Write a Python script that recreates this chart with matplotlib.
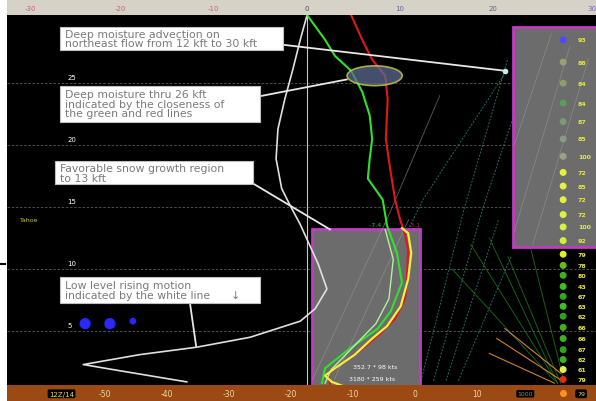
import matplotlib.pyplot as plt
from matplotlib.patches import Rectangle, Ellipse

# profiles: x value (deg C on the skew axis), height in kft
white_x = [-17.4, -18.5, -19.7, -21.0, -22.1, -22.4, -21.5, -20.2, -18.5, -15.6, -14.2,
           -16.1, -18.5, -26.6, -35.2, -44.4, -53.5, -47.6, -36.8]
white_h = [30.5, 28.5, 26.1, 23.7, 21.3, 18.9, 16.5, 15.2, 13.6, 10.4, 8.4,
           6.8, 5.8, 4.5, 3.7, 3.1, 2.3, 1.8, 0.9]

red_x = [-10.3, -8.5, -6.9, -4.8, -4.4, -4.7, -4.0, -3.2, -2.4, -1.6, -1.1, -1.3,
         -1.6, -3.2, -5.6, -8.9, -12.1, -14.0, -13.7]
red_h = [30.5, 28.5, 26.9, 25.6, 23.7, 20.5, 18.1, 15.6, 14.0, 12.8, 11.6, 9.2,
         7.6, 6.0, 4.8, 3.4, 2.3, 1.5, 0.7]

green_x = [-17.4, -14.5, -12.9, -10.3, -8.5, -7.3, -6.9, -7.3, -7.6, -5.2, -4.5, -2.9,
           -2.1, -3.9, -6.0, -10.5, -14.5, -15.0]
green_h = [30.5, 28.5, 27.2, 26.0, 24.3, 22.4, 20.5, 18.9, 17.3, 15.6, 13.5, 11.3,
           8.9, 6.6, 5.2, 3.6, 2.0, 0.8]

yellow_x = [-2.1, -1.1, -0.6, -1.1, -2.3, -4.5, -6.9, -9.7, -12.9, -14.5, -13.4, -11.8]
yellow_h = [13.3, 12.9, 11.3, 9.2, 7.0, 5.4, 4.4, 3.1, 2.0, 1.4, 0.9, 0.6]

lgreen_x = [-4.8, -3.5, -4.2, -6.3, -10.0, -13.5, -14.5]
lgreen_h = [13.2, 10.8, 7.6, 5.6, 3.7, 1.9, 0.8]

# right column (levels and values)
dot_h = [28.5, 26.7, 25.0, 23.4, 21.9, 20.5, 19.1, 17.8, 16.7, 15.6, 14.4, 13.4, 12.3,
         11.2, 10.3, 9.5, 8.6, 7.8, 7.0, 6.2, 5.3, 4.4, 3.5, 2.7, 1.9, 1.1, 0.3]
dot_val = ["93", "88", "84", "84", "87", "85", "100", "72", "85", "72", "72", "100", "92",
           "79", "78", "80", "43", "67", "63", "62", "66", "66", "67", "62", "61", "79", "75"]
dot_col = ["#4a4aff", "#9aa070", "#8c9c6c", "#5c9c5c", "#7a9a70", "#8a9a80", "#a0a080",
           "#e8f040", "#e8f040", "#e0f040", "#e0f040", "#d8f040", "#d0f040", "#e0f020",
           "#60c020", "#40b020", "#40c020", "#30a820", "#40c020", "#30a020", "#40b020",
           "#40b020", "#30a020", "#40b020", "#e8f040", "#e03010", "#ff8000"]

bottom_ticks = [-50, -40, -30, -20, -10, 0, 10]
top_pos = [-62, -47.5, -32.5, -17.5, -2.5, 12.5, 28.5]
top_lab = ["-30", "-20", "-10", "0", "10", "20", "30"]
top_col = ["#d06070", "#d06070", "#d06070", "#505050", "#6060a0", "#6060a0", "#8060c0"]
grid_h = [5, 10, 15, 20, 25]

xlim = (-65.8, 29.2)
ylim = (0.65, 30.5)

fig = plt.figure(figsize=(5.96, 4.02), dpi=100, facecolor="white")
ax = fig.add_axes([7 / 596, 16 / 402, 589 / 596, 370 / 402])
ax.set_facecolor("black")
ax.set_xlim(xlim)
ax.set_ylim(ylim)
ax.set_xticks([])
ax.set_yticks([])
for s in ax.spines.values():
    s.set_visible(False)

# guide lines
teal = [([1.0, 8.0, 15.0], [1, 15, 27]), ([3.0, 11.0, 17.0], [1, 15, 24]),
        ([5.0, 13.5], [1, 14]), ([-10.0, 1.3, 14.8], [4, 15.6, 26]),
        ([7.0, 15.5], [1, 11])]
for tx, th in teal:
    ax.plot(tx, th, color="#2a8a80", lw=0.7, ls=(0, (2, 1.5)), alpha=0.8, zorder=2)
for tx, th in [([-16.5, -4.0, 4.0], [1.1, 14.6, 24]), ([-13.0, -1.0], [1.1, 14.0])]:
    ax.plot(tx, th, color="#9a9a9a", lw=0.6, alpha=0.6, zorder=4)
for tx, th in [([9, 23], [12, 0.8]), ([12, 23], [12.5, 0.8]), ([15, 23.5], [11, 0.8]),
               ([6, 22.5], [10, 1.0]), ([18, 24], [13, 1])]:
    ax.plot(tx, th, color="#208a20", lw=0.7, alpha=0.7, zorder=2)
for tx, th in [([13.2, 23.4], [4.4, 1.1]), ([12.0, 22.5], [3.2, 0.8]), ([14.5, 23.5], [5.2, 1.6])]:
    ax.plot(tx, th, color="#d08030", lw=0.8, zorder=2)

# gray boxes
ax.add_patch(Rectangle((-16.6, 0.4), 17.4, 12.8, facecolor="#6c6c6c",
                       edgecolor="#c03cc0", lw=2, zorder=3))
ax.add_patch(Rectangle((15.8, 11.8), 14.5, 17.7, facecolor="#6c6c6c",
                       edgecolor="#c03cc0", lw=2, zorder=3))
for tx, th in [([16, 25], [13, 28]), ([19, 28], [12, 27]), ([16, 22], [20, 29])]:
    ax.plot(tx, th, color="#a0a0a0", lw=0.5, alpha=0.6, zorder=4)

# grid
for g in grid_h:
    ax.axhline(g, color="#707070", lw=0.6, ls=(0, (3, 2)), alpha=0.8, zorder=5)
    ax.text(-56.1, g + 0.3, str(g), color="white", fontsize=5, zorder=6)
ax.axvline(-17.4, color="#c8c8c8", lw=0.8, zorder=5)

# profiles
ax.plot(white_x, white_h, color="#e0e0e0", lw=1.2, zorder=6)
ax.plot(red_x, red_h, color="#e01818", lw=1.5, zorder=6)
ax.plot(green_x, green_h, color="#30e030", lw=1.5, zorder=7)
ax.plot(lgreen_x, lgreen_h, color="#b0f0a0", lw=1.0, zorder=7)
ax.plot(yellow_x, yellow_h, color="#f0f040", lw=1.6, zorder=8)

ax.add_patch(Ellipse((-6.5, 25.6), 8.9, 1.6, facecolor="#5a6a90", alpha=0.75,
                     edgecolor="#d8d840", lw=1.2, zorder=8))

ax.text(-7.4, 13.5, "-7.4 °", color="#30c030", fontsize=4.5, zorder=8)
ax.text(-1.0, 13.5, "-3.1", color="#a03030", fontsize=4.5, zorder=8)
ax.text(-10.0, 2.0, "352.7 * 98 kts", color="white", fontsize=4.5, zorder=9)
ax.text(-10.6, 1.05, "3180 * 259 kts", color="white", fontsize=4.5, zorder=9)

# right column
ax.scatter([23.9] * len(dot_h), dot_h, c=dot_col, s=16, marker="o", zorder=9)
for h, v in zip(dot_h, dot_val):
    ax.text(26.3, h, v, color="#e8e840", fontsize=4.5, fontweight="bold",
            va="center", zorder=9)

# blue marks and site label
ax.scatter([-53.2, -49.2, -45.5], [5.6, 5.6, 5.8], color="#2828ff", s=[50, 50, 15],
           marker="o", zorder=6)
ax.text(-63.7, 13.9, "Tahoe", color="#c8c830", fontsize=4.5, zorder=6)

# annotation boxes: text, box (x0, x1, y0, y1), pointer start, pointer end
notes = [
    ("Deep moisture advection on\nnortheast flow from 12 kft to 30 kft",
     (-57.3, -21.3, 27.7, 29.5), (-21.3, 28.1), (14.5, 26.0)),
    ("Deep moisture thru 26 kft\nindicated by the closeness of\nthe green and red lines",
     (-57.3, -25.0, 21.9, 24.8), (-25.0, 23.95), (-11.0, 25.3)),
    ("Favorable snow growth region\nto 13 kft",
     (-58.1, -26.1, 16.85, 18.7), (-26.1, 16.9), (-13.7, 13.2)),
    ("Low level rising motion\nindicated by the white line      \u2193",
     (-57.3, -25.0, 7.3, 9.35), (-36.3, 7.3), (-35.3, 3.8)),
]
for txt, (x0, x1, y0, y1), p0, p1 in notes:
    ax.plot([p0[0], p1[0]], [p0[1], p1[1]], color="#e8e8e8", lw=1.3, zorder=9)
    ax.add_patch(Rectangle((x0, y0), x1 - x0, y1 - y0, facecolor="white",
                           edgecolor="#c0c0c0", lw=0.8, zorder=10))
    ax.text(x0 + 0.8, (y0 + y1) / 2, txt, color="#7a7a7a", fontsize=7.8, va="center",
            ha="left", linespacing=0.95, zorder=11)
ax.plot([14.5], [26.0], "o", color="#c0f0f0", ms=3, zorder=10)

# top strip
top = fig.add_axes([7 / 596, 386 / 402, 589 / 596, 16 / 402])
top.set_xlim(xlim)
top.set_ylim(0, 1)
top.axis("off")
top.add_patch(Rectangle((xlim[0], 0), xlim[1] - xlim[0], 1, facecolor="#d6d2c8"))
for p, lab, c in zip(top_pos, top_lab, top_col):
    top.text(p, 0.45, lab, color=c, fontsize=5, ha="center", va="center")

# bottom strip
bot = fig.add_axes([7 / 596, 0, 589 / 596, 16 / 402])
bot.set_xlim(xlim)
bot.set_ylim(0, 1)
bot.axis("off")
bot.add_patch(Rectangle((xlim[0], 0), xlim[1] - xlim[0], 1, facecolor="#9c4a14"))
for t in bottom_ticks:
    bot.text(t, 0.45, str(t), color="#e8d8b0", fontsize=5.5, ha="center", va="center")
bot.text(-57.0, 0.45, "12Z/14", color="#e8e040", fontsize=5, ha="center", va="center",
         bbox=dict(boxstyle="round,pad=0.2", facecolor="black", edgecolor="none"))
bot.text(17.8, 0.45, "1000", color="#a08060", fontsize=4.5, ha="center", va="center",
         bbox=dict(boxstyle="round,pad=0.2", facecolor="black", edgecolor="none"))
bot.text(26.8, 0.45, "79", color="#e8e040", fontsize=4.5, ha="center", va="center",
         bbox=dict(boxstyle="round,pad=0.3", facecolor="black", edgecolor="none"))
bot.plot([23.9], [0.5], "o", color="#ff9020", ms=4)

# small mark on the left edge
fig.add_artist(plt.Line2D([0, 5 / 596], [137 / 402, 137 / 402], color="black", lw=1.5))

fig.savefig("out.png", dpi=100, facecolor="white")
